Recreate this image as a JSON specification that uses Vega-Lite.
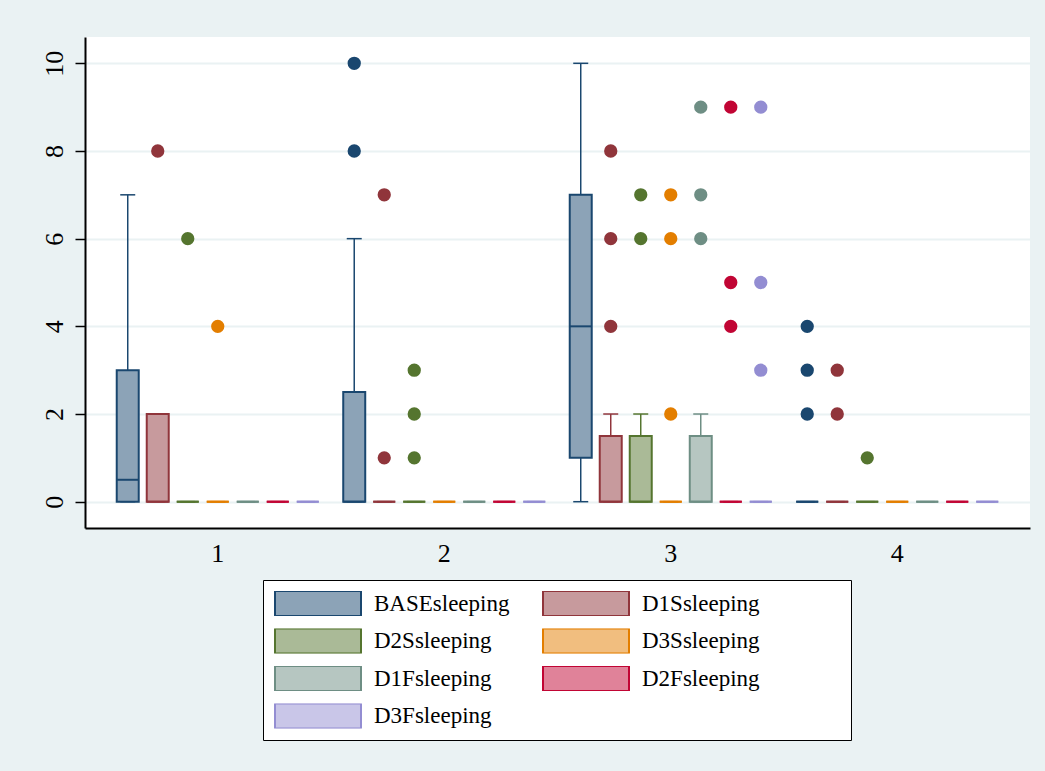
{
  "$schema": "https://vega.github.io/schema/vega-lite/v6.json",
  "width": 945,
  "height": 491,
  "autosize": {"type": "none"},
  "padding": {"left": 85, "top": 37, "right": 15, "bottom": 243},
  "background": "#EAF2F3",
  "config": {
    "view": {"stroke": null, "fill": "white"},
    "font": "Liberation Serif",
    "axis": {"labelFont": "Liberation Serif", "labelColor": "black", "labelFontSize": 26, "domainColor": "black", "domainWidth": 2, "tickColor": "black", "tickWidth": 1.5},
    "legend": {
      "orient": "none",
      "legendX": 178,
      "legendY": 543,
      "direction": "horizontal",
      "columns": 2,
      "symbolType": "M-1,-0.29H1V0.29H-1Z",
      "symbolSize": 7396,
      "symbolStrokeWidth": 2,
      "symbolOpacity": 1,
      "clipHeight": 25,
      "labelFont": "Liberation Serif",
      "labelFontSize": 23,
      "labelColor": "black",
      "labelOffset": 12,
      "columnPadding": 32,
      "rowPadding": 12.5,
      "padding": 11,
      "fillColor": "white",
      "strokeColor": "black",
      "titleOrient": "right",
      "titlePadding": 80,
      "titleFontSize": 22
    }
  },
  "datasets": {
    "boxes": [
      {"group": "1", "var": "BASEsleeping", "lo": 0, "q1": 0, "med": 0.5, "q3": 3, "hi": 7},
      {"group": "1", "var": "D1Ssleeping", "lo": 0, "q1": 0, "med": 0, "q3": 2, "hi": 2},
      {"group": "1", "var": "D2Ssleeping", "lo": 0, "q1": 0, "med": 0, "q3": 0, "hi": 0},
      {"group": "1", "var": "D3Ssleeping", "lo": 0, "q1": 0, "med": 0, "q3": 0, "hi": 0},
      {"group": "1", "var": "D1Fsleeping", "lo": 0, "q1": 0, "med": 0, "q3": 0, "hi": 0},
      {"group": "1", "var": "D2Fsleeping", "lo": 0, "q1": 0, "med": 0, "q3": 0, "hi": 0},
      {"group": "1", "var": "D3Fsleeping", "lo": 0, "q1": 0, "med": 0, "q3": 0, "hi": 0},
      {"group": "2", "var": "BASEsleeping", "lo": 0, "q1": 0, "med": 0, "q3": 2.5, "hi": 6},
      {"group": "2", "var": "D1Ssleeping", "lo": 0, "q1": 0, "med": 0, "q3": 0, "hi": 0},
      {"group": "2", "var": "D2Ssleeping", "lo": 0, "q1": 0, "med": 0, "q3": 0, "hi": 0},
      {"group": "2", "var": "D3Ssleeping", "lo": 0, "q1": 0, "med": 0, "q3": 0, "hi": 0},
      {"group": "2", "var": "D1Fsleeping", "lo": 0, "q1": 0, "med": 0, "q3": 0, "hi": 0},
      {"group": "2", "var": "D2Fsleeping", "lo": 0, "q1": 0, "med": 0, "q3": 0, "hi": 0},
      {"group": "2", "var": "D3Fsleeping", "lo": 0, "q1": 0, "med": 0, "q3": 0, "hi": 0},
      {"group": "3", "var": "BASEsleeping", "lo": 0, "q1": 1, "med": 4, "q3": 7, "hi": 10},
      {"group": "3", "var": "D1Ssleeping", "lo": 0, "q1": 0, "med": 0, "q3": 1.5, "hi": 2},
      {"group": "3", "var": "D2Ssleeping", "lo": 0, "q1": 0, "med": 0, "q3": 1.5, "hi": 2},
      {"group": "3", "var": "D3Ssleeping", "lo": 0, "q1": 0, "med": 0, "q3": 0, "hi": 0},
      {"group": "3", "var": "D1Fsleeping", "lo": 0, "q1": 0, "med": 0, "q3": 1.5, "hi": 2},
      {"group": "3", "var": "D2Fsleeping", "lo": 0, "q1": 0, "med": 0, "q3": 0, "hi": 0},
      {"group": "3", "var": "D3Fsleeping", "lo": 0, "q1": 0, "med": 0, "q3": 0, "hi": 0},
      {"group": "4", "var": "BASEsleeping", "lo": 0, "q1": 0, "med": 0, "q3": 0, "hi": 0},
      {"group": "4", "var": "D1Ssleeping", "lo": 0, "q1": 0, "med": 0, "q3": 0, "hi": 0},
      {"group": "4", "var": "D2Ssleeping", "lo": 0, "q1": 0, "med": 0, "q3": 0, "hi": 0},
      {"group": "4", "var": "D3Ssleeping", "lo": 0, "q1": 0, "med": 0, "q3": 0, "hi": 0},
      {"group": "4", "var": "D1Fsleeping", "lo": 0, "q1": 0, "med": 0, "q3": 0, "hi": 0},
      {"group": "4", "var": "D2Fsleeping", "lo": 0, "q1": 0, "med": 0, "q3": 0, "hi": 0},
      {"group": "4", "var": "D3Fsleeping", "lo": 0, "q1": 0, "med": 0, "q3": 0, "hi": 0}
    ],
    "outliers": [
      {"group": "1", "var": "D1Ssleeping", "value": 8},
      {"group": "1", "var": "D2Ssleeping", "value": 6},
      {"group": "1", "var": "D3Ssleeping", "value": 4},
      {"group": "2", "var": "BASEsleeping", "value": 10},
      {"group": "2", "var": "BASEsleeping", "value": 8},
      {"group": "2", "var": "D1Ssleeping", "value": 7},
      {"group": "2", "var": "D1Ssleeping", "value": 1},
      {"group": "2", "var": "D2Ssleeping", "value": 3},
      {"group": "2", "var": "D2Ssleeping", "value": 2},
      {"group": "2", "var": "D2Ssleeping", "value": 1},
      {"group": "3", "var": "D1Ssleeping", "value": 8},
      {"group": "3", "var": "D1Ssleeping", "value": 6},
      {"group": "3", "var": "D1Ssleeping", "value": 4},
      {"group": "3", "var": "D2Ssleeping", "value": 7},
      {"group": "3", "var": "D2Ssleeping", "value": 6},
      {"group": "3", "var": "D3Ssleeping", "value": 7},
      {"group": "3", "var": "D3Ssleeping", "value": 6},
      {"group": "3", "var": "D3Ssleeping", "value": 2},
      {"group": "3", "var": "D1Fsleeping", "value": 9},
      {"group": "3", "var": "D1Fsleeping", "value": 7},
      {"group": "3", "var": "D1Fsleeping", "value": 6},
      {"group": "3", "var": "D2Fsleeping", "value": 9},
      {"group": "3", "var": "D2Fsleeping", "value": 5},
      {"group": "3", "var": "D2Fsleeping", "value": 4},
      {"group": "3", "var": "D3Fsleeping", "value": 9},
      {"group": "3", "var": "D3Fsleeping", "value": 5},
      {"group": "3", "var": "D3Fsleeping", "value": 3},
      {"group": "4", "var": "BASEsleeping", "value": 4},
      {"group": "4", "var": "BASEsleeping", "value": 3},
      {"group": "4", "var": "BASEsleeping", "value": 2},
      {"group": "4", "var": "D1Ssleeping", "value": 3},
      {"group": "4", "var": "D1Ssleeping", "value": 2},
      {"group": "4", "var": "D2Ssleeping", "value": 1}
    ]
  },
  "encoding": {
    "x": {
      "field": "group", "type": "nominal",
      "scale": {"domain": ["1", "2", "3", "4"], "paddingInner": 0.0728, "paddingOuter": 0.1225},
      "axis": {"title": null, "labelAngle": 0, "ticks": false, "labelPadding": 12, "grid": false}
    },
    "xOffset": {
      "field": "var", "type": "nominal",
      "scale": {"domain": ["BASEsleeping", "D1Ssleeping", "D2Ssleeping", "D3Ssleeping", "D1Fsleeping", "D2Fsleeping", "D3Fsleeping"], "paddingInner": 0.267, "paddingOuter": 0.133}
    }
  },
  "layer": [
    {
      "data": {"name": "boxes"},
      "mark": {"type": "rule", "strokeWidth": 1.5},
      "encoding": {
        "y": {
          "field": "q3", "type": "quantitative",
          "scale": {"domain": [-0.6, 10.6], "nice": false, "zero": false},
          "axis": {"title": null, "values": [0, 2, 4, 6, 8, 10], "labelAngle": -90, "labelAlign": "center", "labelBaseline": "bottom", "tickSize": 10, "labelPadding": 8, "grid": true, "gridColor": "#EAF2F3", "gridWidth": 2}
        },
        "y2": {"field": "hi"},
        "color": {
          "field": "var", "type": "nominal", "legend": null,
          "scale": {"domain": ["BASEsleeping", "D1Fsleeping", "D1Ssleeping", "D2Fsleeping", "D2Ssleeping", "D3Fsleeping", "D3Ssleeping"], "range": ["#1a476f", "#6e8e84", "#90353b", "#c10534", "#55752f", "#938dd2", "#e37e00"]}
        }
      }
    },
    {
      "data": {"name": "boxes"},
      "mark": {"type": "rule", "strokeWidth": 1.5},
      "encoding": {
        "y": {"field": "lo", "type": "quantitative"},
        "y2": {"field": "q1"},
        "color": {"field": "var", "type": "nominal", "legend": null}
      }
    },
    {
      "data": {"name": "boxes"},
      "mark": {"type": "tick", "orient": "horizontal", "size": 15, "thickness": 1.5, "opacity": 1},
      "encoding": {
        "y": {"field": "hi", "type": "quantitative"},
        "color": {"field": "var", "type": "nominal", "legend": null}
      }
    },
    {
      "data": {"name": "boxes"},
      "mark": {"type": "tick", "orient": "horizontal", "size": 15, "thickness": 1.5, "opacity": 1},
      "encoding": {
        "y": {"field": "lo", "type": "quantitative"},
        "color": {"field": "var", "type": "nominal", "legend": null}
      }
    },
    {
      "data": {"name": "boxes"},
      "mark": {"type": "bar", "strokeWidth": 2, "opacity": 1},
      "encoding": {
        "y": {"field": "q1", "type": "quantitative"},
        "y2": {"field": "q3"},
        "fill": {
          "field": "var", "type": "nominal",
          "scale": {"domain": ["BASEsleeping", "D1Ssleeping", "D2Ssleeping", "D3Ssleeping", "D1Fsleeping", "D2Fsleeping", "D3Fsleeping"], "range": ["#8ca3b7", "#c79a9d", "#aaba97", "#f1be7f", "#b6c6c1", "#e08299", "#c9c6e8"]},
          "legend": {"title": " "}
        },
        "stroke": {
          "field": "var", "type": "nominal",
          "scale": {"domain": ["BASEsleeping", "D1Ssleeping", "D2Ssleeping", "D3Ssleeping", "D1Fsleeping", "D2Fsleeping", "D3Fsleeping"], "range": ["#1a476f", "#90353b", "#55752f", "#e37e00", "#6e8e84", "#c10534", "#938dd2"]},
          "legend": {"title": " "}
        }
      }
    },
    {
      "data": {"name": "boxes"},
      "mark": {"type": "tick", "orient": "horizontal", "size": 22, "thickness": 2, "opacity": 1},
      "encoding": {
        "y": {"field": "med", "type": "quantitative"},
        "color": {"field": "var", "type": "nominal", "legend": null}
      }
    },
    {
      "data": {"name": "outliers"},
      "mark": {"type": "point", "filled": true, "size": 177, "opacity": 1},
      "encoding": {
        "y": {"field": "value", "type": "quantitative"},
        "color": {"field": "var", "type": "nominal", "legend": null}
      }
    }
  ]
}
